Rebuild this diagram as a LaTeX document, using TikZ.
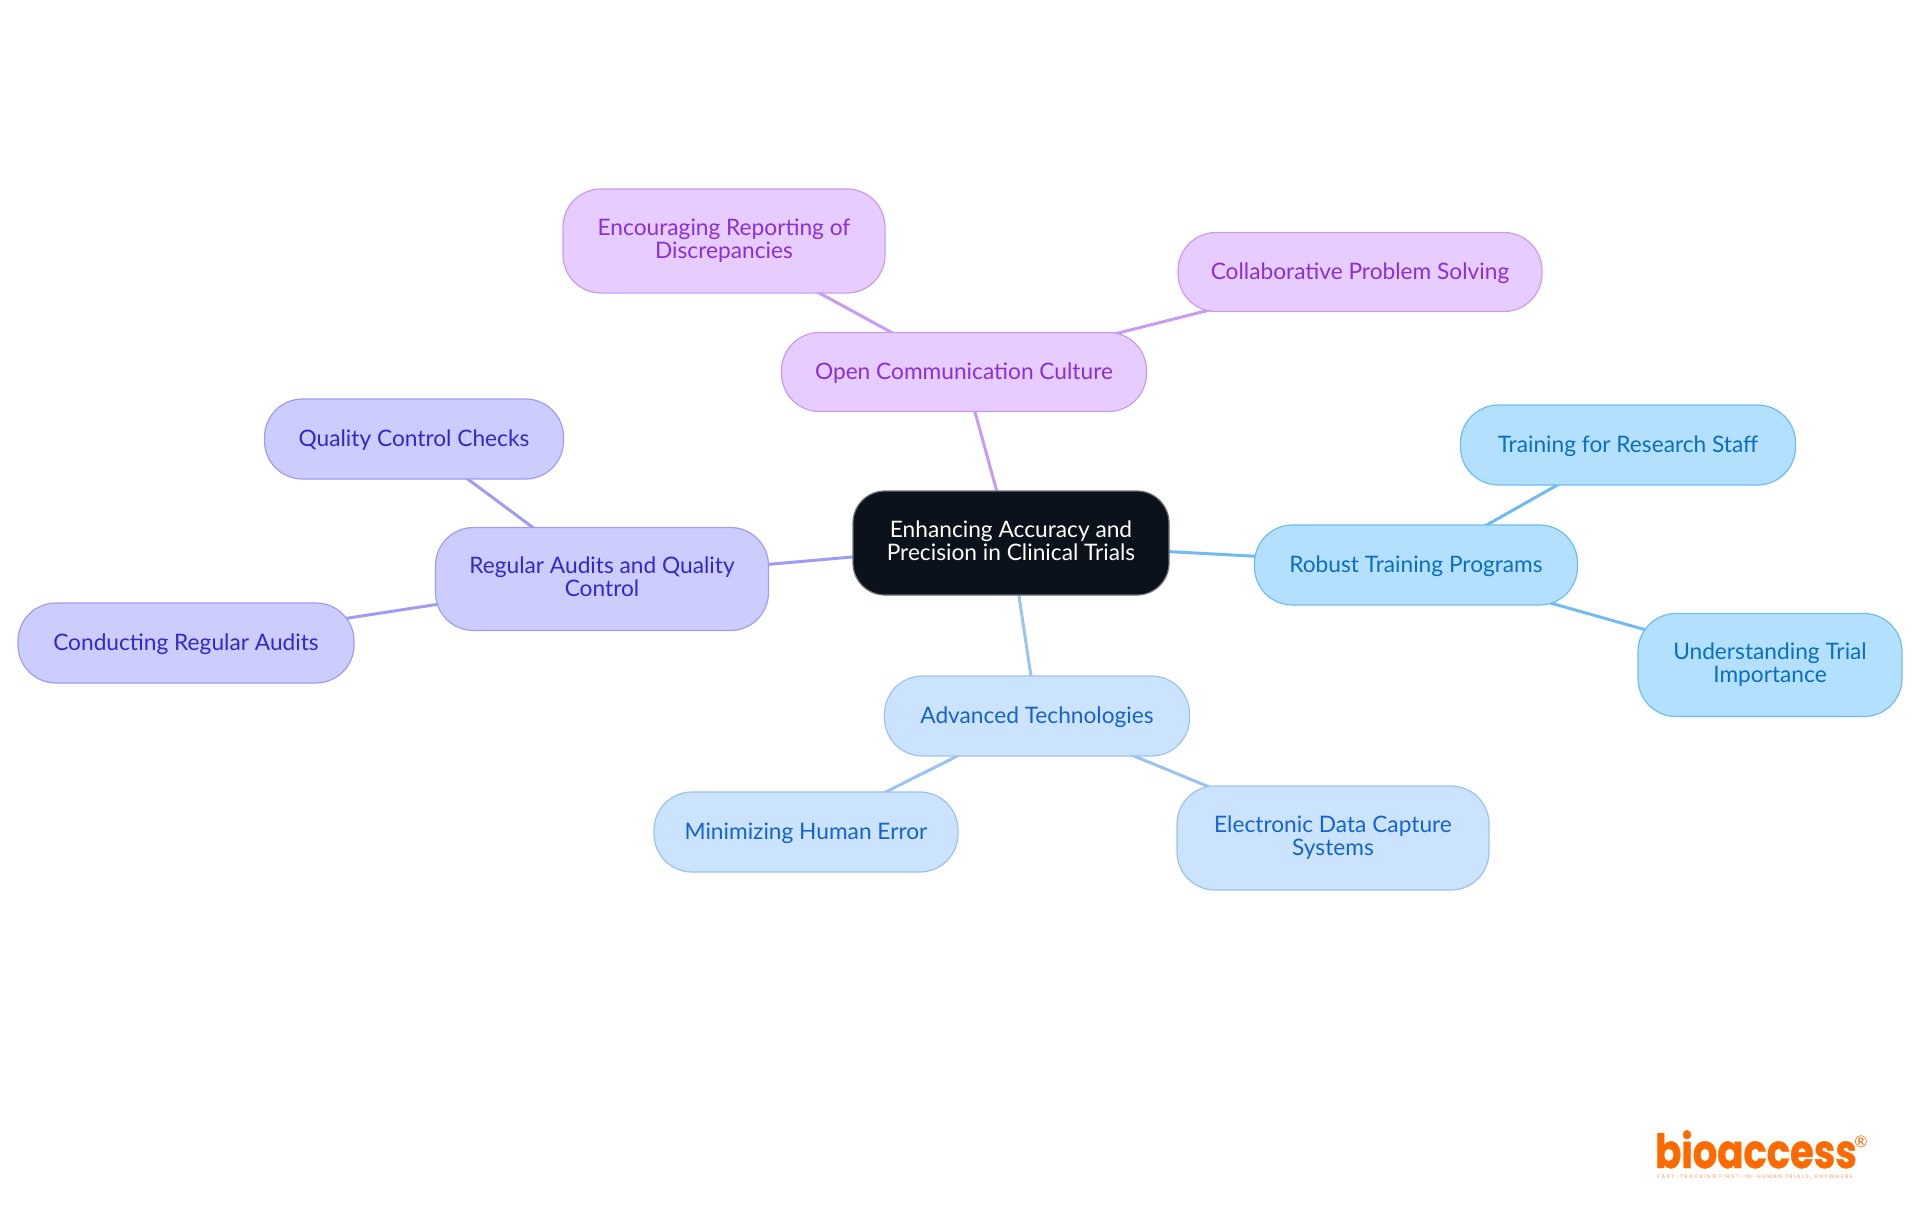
\documentclass[tikz,border=0pt]{standalone}
\usepackage{fontspec}
\usetikzlibrary{backgrounds}
\setmainfont{Lato}
\newfontfamily\logofont[BoldFeatures={FakeBold=1}]{Poppins}
\newfontfamily\tagfont[LetterSpace=30]{Poppins}
\newcommand{\linestrut}{\rule[-4.55pt]{0pt}{23.5pt}}
\definecolor{rootfill}{HTML}{0B121B}
\definecolor{rootline}{HTML}{6E7276}
\definecolor{purplefill}{HTML}{E6CCFF}
\definecolor{purpleline}{HTML}{C99BF3}
\definecolor{purpletext}{HTML}{8C2FD8}
\definecolor{indigofill}{HTML}{CCCCFF}
\definecolor{indigoline}{HTML}{A09CF5}
\definecolor{indigotext}{HTML}{3328CC}
\definecolor{skyfill}{HTML}{B3E0FF}
\definecolor{skyline}{HTML}{70BCF2}
\definecolor{skytext}{HTML}{0A6FC0}
\definecolor{bluefill}{HTML}{CCE3FF}
\definecolor{blueline}{HTML}{99C4F2}
\definecolor{bluetext}{HTML}{1464CC}
\definecolor{logoorange}{HTML}{FF6A00}
\tikzset{
    mapbox/.style={rectangle, rounded corners=38pt, line width=1.2pt, inner sep=0pt, align=center,
        font=\fontsize{22.7}{23.5}\selectfont,
        execute at begin node=\linestrut, execute at end node=\linestrut},
    rootbox/.style={mapbox, rounded corners=32pt, draw=rootline, fill=rootfill, text=white},
    purplebox/.style={mapbox, draw=purpleline, fill=purplefill, text=purpletext},
    indigobox/.style={mapbox, draw=indigoline, fill=indigofill, text=indigotext},
    skybox/.style={mapbox, draw=skyline, fill=skyfill, text=skytext},
    bluebox/.style={mapbox, draw=blueline, fill=bluefill, text=bluetext},
    purplelink/.style={draw=purpleline, line width=3pt},
    indigolink/.style={draw=indigoline, line width=3pt},
    skylink/.style={draw=skyline, line width=3pt},
    bluelink/.style={draw=blueline, line width=3pt}
}
\begin{document}
\begin{tikzpicture}[x=1pt,y=-1pt]
    \useasboundingbox (0,0) rectangle (1920,1215);
    % centre
    \node[rootbox, minimum width=316pt, minimum height=104pt] (root) at (1011,543) {Enhancing Accuracy and\\Precision in Clinical Trials};
    % purple branch
    \node[purplebox, minimum width=365pt, minimum height=79pt] (open) at (964,372) {Open Communication Culture};
    \node[purplebox, minimum width=322pt, minimum height=104pt] (report) at (724,241) {Encouraging Reporting of\\Discrepancies};
    \node[purplebox, minimum width=364pt, minimum height=79pt] (solve) at (1360,272) {Collaborative Problem Solving};
    % indigo branch
    \node[indigobox, minimum width=333pt, minimum height=103pt] (audit) at (602,579) {Regular Audits and Quality\\Control};
    \node[indigobox, minimum width=299pt, minimum height=80pt] (checks) at (414,439) {Quality Control Checks};
    \node[indigobox, minimum width=336pt, minimum height=80pt] (conduct) at (186,643) {Conducting Regular Audits};
    % sky branch
    \node[skybox, minimum width=323pt, minimum height=80pt] (train) at (1416,565) {Robust Training Programs};
    \node[skybox, minimum width=335pt, minimum height=80pt] (staff) at (1628,445) {Training for Research Staff};
    \node[skybox, minimum width=264pt, minimum height=103pt] (trial) at (1770,665) {Understanding Trial\\Importance};
    % blue branch
    \node[bluebox, minimum width=305pt, minimum height=80pt] (tech) at (1037,716) {Advanced Technologies};
    \node[bluebox, minimum width=304pt, minimum height=80pt] (human) at (806,832) {Minimizing Human Error};
    \node[bluebox, minimum width=312pt, minimum height=104pt] (capture) at (1333,838) {Electronic Data Capture\\Systems};
    % links
    \begin{scope}[on background layer]
        \draw[purplelink] (root.center) -- (open.center);
        \draw[purplelink] (open.center) -- (report.center);
        \draw[purplelink] (open.center) -- (solve.center);
        \draw[indigolink] (root.center) -- (audit.center);
        \draw[indigolink] (audit.center) -- (checks.center);
        \draw[indigolink] (audit.center) -- (conduct.center);
        \draw[skylink] (root.center) -- (train.center);
        \draw[skylink] (train.center) -- (staff.center);
        \draw[skylink] (train.center) -- (trial.center);
        \draw[bluelink] (root.center) -- (tech.center);
        \draw[bluelink] (tech.center) -- (human.center);
        \draw[bluelink] (tech.center) -- (capture.center);
    \end{scope}
    % logo
    \node[text=logoorange, inner sep=0pt, anchor=base, xscale=.82, font=\logofont\bfseries\fontsize{47}{47}\selectfont] (logo) at (1756,1168) {bioaccess};
    \node[text=logoorange, inner sep=0pt, font=\fontsize{16}{16}\selectfont] (mark) at (1861,1142) {®};
    \node[text=logoorange!70, inner sep=0pt, font=\tagfont\fontsize{5.2}{6}\selectfont] (tag) at (1755,1177) {FAST-TRACKING FIRST-IN-HUMAN TRIALS, ANYWHERE};
\end{tikzpicture}
\end{document}
